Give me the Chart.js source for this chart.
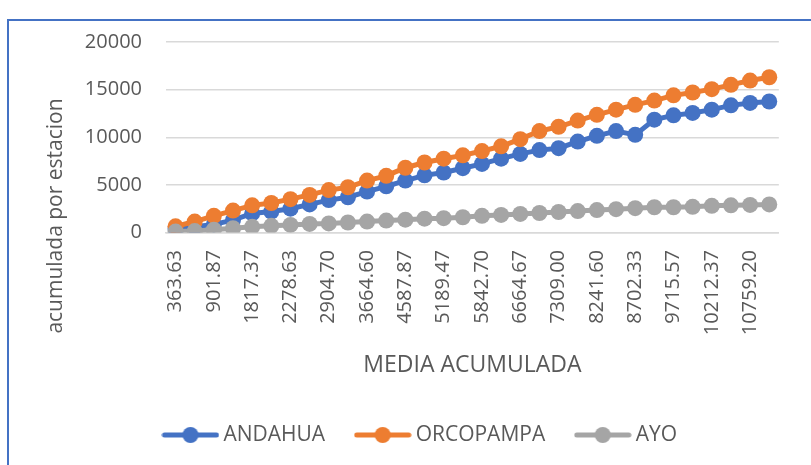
<!DOCTYPE html>
<html>
<head>
<meta charset="utf-8">
<script src="https://cdn.jsdelivr.net/npm/chart.js@4/dist/chart.umd.min.js"></script>
<style>
    html, body { margin: 0; padding: 0; background: #fff; overflow: hidden; }
    #wrap { position: relative; width: 811px; height: 465px; }
    #frame { position: absolute; left: 7px; top: 19px; width: 900px; height: 600px; border: 2px solid #4472C4; }
    #chart { position: absolute; left: 0; top: 0; }
</style>
</head>
<body>
<div id="wrap">
    <div id="frame"></div>
    <canvas id="chart" width="811" height="465"></canvas>
</div>
<script>
// media acumulada (only every other label is readable on the axis)
const categories = [
    '363.63', '', '901.87', '', '1817.37', '', '2278.63', '', '2904.70', '', '3664.60', '',
    '4587.87', '', '5189.47', '', '5842.70', '', '6664.67', '', '7309.00', '', '8241.60', '',
    '8702.33', '', '9715.57', '', '10212.37', '', '10759.20', ''
];

const andahua = [
    400, 600, 850, 1300, 2000, 2200, 2500, 2950, 3400, 3700, 4300, 4850,
    5450, 6000, 6300, 6750, 7200, 7750, 8250, 8650, 8850, 9550, 10150, 10650,
    10250, 11850, 12300, 12550, 12900, 13350, 13600, 13750
];

const orcopampa = [
    650, 1150, 1750, 2300, 2850, 3100, 3500, 3950, 4450, 4750, 5450, 5950,
    6800, 7350, 7750, 8100, 8550, 9050, 9800, 10650, 11100, 11750, 12350, 12900,
    13400, 13850, 14400, 14700, 15050, 15500, 15950, 16300
];

const ayo = [
    100, 150, 300, 450, 600, 700, 800, 900, 950, 1050, 1150, 1250,
    1350, 1450, 1500, 1600, 1750, 1850, 1950, 2050, 2150, 2250, 2350, 2450,
    2550, 2650, 2650, 2700, 2800, 2850, 2900, 2950
];

const yTicks = [0, 5000, 10000, 15000, 20000];

const textColor = '#595959';
const gridColor = '#D9D9D9';
const fontFamily = '"Open Sans", "Liberation Sans", sans-serif';

Chart.defaults.font.family = fontFamily;
Chart.defaults.color = textColor;

// legend sample: a short line with a dot in the middle
function legendMark(color){
    const c = document.createElement('canvas');
    c.width = 58;
    c.height = 18;
    const g = c.getContext('2d');
    g.strokeStyle = color;
    g.lineWidth = 5;
    g.lineCap = 'round';
    g.beginPath();
    g.moveTo(3, 9);
    g.lineTo(55, 9);
    g.stroke();
    g.fillStyle = color;
    g.beginPath();
    g.arc(29, 9, 8, 0, Math.PI * 2);
    g.fill();
    return c;
}

function series(label, data, color, order){
    return {
        label: label,
        data: data,
        borderColor: color,
        backgroundColor: color,
        pointBackgroundColor: color,
        pointBorderWidth: 0,
        pointRadius: 8,
        pointHoverRadius: 8,
        borderWidth: 5,
        pointStyle: 'circle',
        order: order
    };
}

// y axis title sits lower than the plot centre in the original
const yTitlePlugin = {
    id: 'yTitle',
    afterDraw(chart){
        const ctx = chart.ctx;
        ctx.save();
        ctx.translate(62, 216);
        ctx.rotate(-Math.PI / 2);
        ctx.font = '21px ' + fontFamily;
        ctx.fillStyle = textColor;
        ctx.textAlign = 'center';
        ctx.textBaseline = 'alphabetic';
        ctx.fillText('acumulada por estacion', 0, 0);
        ctx.restore();
    }
};

const ctx = document.getElementById('chart');
const chart = new Chart(ctx, {
    type: 'line',
    data: {
        labels: categories,
        datasets: [
            series('ANDAHUA', andahua, '#4472C4', 3),
            series('ORCOPAMPA', orcopampa, '#ED7D31', 2),
            series('AYO', ayo, '#A5A5A5', 1)
        ]
    },
    options: {
        responsive: false,
        animation: false,
        events: [],
        layout: {
            padding: { left: 50, right: 16, top: 42, bottom: 9.5 }
        },
        elements: {
            line: { tension: 0 }
        },
        scales: {
            x: {
                offset: true,
                grid: { display: false, drawTicks: false },
                border: { display: true, color: gridColor, width: 1.5 },
                ticks: {
                    autoSkip: false,
                    minRotation: 90,
                    maxRotation: 90,
                    padding: 17.5,
                    color: textColor,
                    font: { size: 20 }
                },
                title: {
                    display: true,
                    text: 'MEDIA ACUMULADA',
                    color: textColor,
                    font: { size: 23 },
                    padding: { top: 0, bottom: 10.5 }
                },
                afterFit(scale){
                    scale.height = 157;
                }
            },
            y: {
                min: 0,
                max: 20000,
                afterBuildTicks(scale){
                    scale.ticks = yTicks.map(v => ({ value: v }));
                },
                grid: { color: gridColor, lineWidth: 1.5, drawTicks: false },
                border: { display: false },
                ticks: {
                    padding: 24,
                    color: textColor,
                    font: { size: 20 },
                    callback: v => String(v)
                },
                afterFit(scale){
                    scale.width = 116;
                }
            }
        },
        plugins: {
            tooltip: { enabled: false },
            legend: {
                position: 'bottom',
                align: 'center',
                labels: {
                    usePointStyle: true,
                    pointStyleWidth: 45,
                    padding: 35,
                    color: textColor,
                    font: { size: 21 },
                    sort: (a, b) => a.datasetIndex - b.datasetIndex,
                    generateLabels(chart){
                        const items = Chart.defaults.plugins.legend.labels.generateLabels(chart);
                        items.forEach(item => {
                            item.pointStyle = legendMark(chart.data.datasets[item.datasetIndex].borderColor);
                        });
                        return items;
                    }
                }
            }
        }
    },
    plugins: [yTitlePlugin]
});
</script>
</body>
</html>
